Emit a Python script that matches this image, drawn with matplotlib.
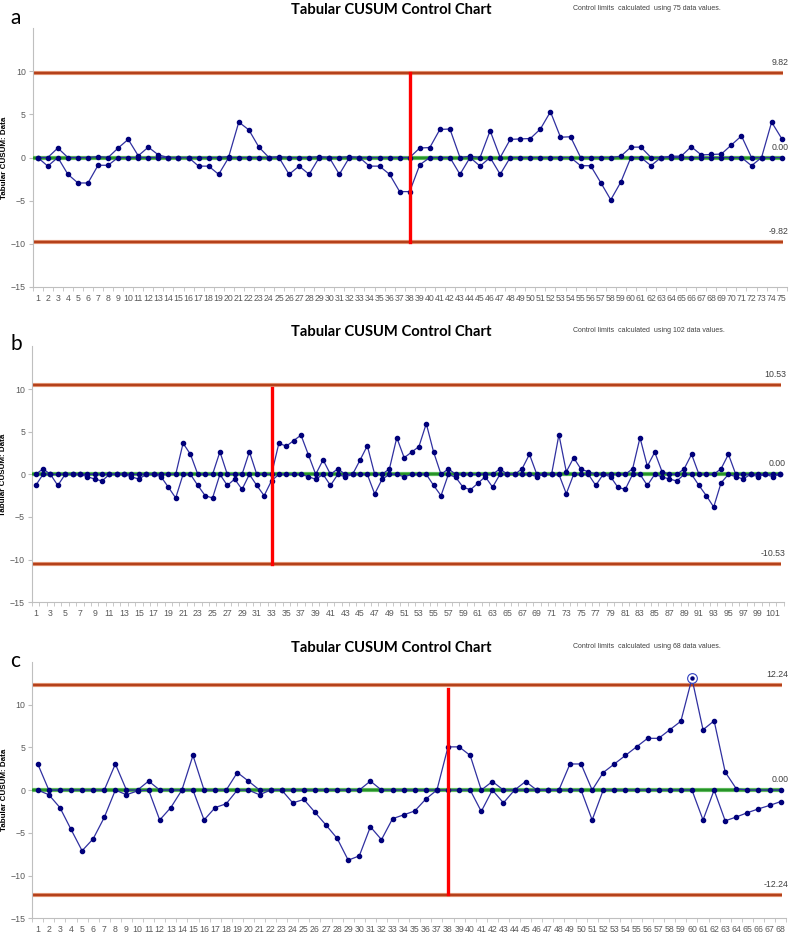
import numpy as np
import matplotlib
matplotlib.use("Agg")
import matplotlib.pyplot as plt
from matplotlib.ticker import FixedLocator

plt.rcParams['font.family'] = ['Liberation Sans', 'DejaVu Sans']

# ---- panel a : 75 values ----
a_upper = [0, 0, 1.1, 0, 0, 0, 0.1, 0, 1.1, 2.1, 0.2, 1.2, 0.3, 0, 0, 0, 0, 0, 0, 0.1,
           4.1, 3.2, 1.2, 0, 0.1, 0, 0, 0, 0.1, 0, 0, 0.1, 0, 0, 0, 0, 0, 0, 1.1, 1.15,
           3.25, 3.3, 0, 0.15, 0, 3.1, 0, 2.1, 2.15, 2.2, 3.3, 5.3, 2.35, 2.4, 0, 0, 0, 0, 0.15, 1.2,
           1.2, 0, 0, 0.15, 0.15, 1.25, 0.3, 0.35, 0.4, 1.45, 2.5, 0, 0, 4.1, 2.2]
a_lower = [0, -1.0, 0, -1.95, -2.95, -2.95, -0.9, -0.9, 0, 0, 0, 0, 0, 0, 0, 0, -1.0, -1.0, -1.95, 0,
           0, 0, 0, 0, 0, -1.95, -1.0, -1.95, 0, 0, -1.95, 0, 0, -1.0, -1.0, -1.95, -3.95, -3.95, -0.85, 0,
           0, 0, -1.95, 0, -1.0, 0, -1.95, 0, 0, 0, 0, 0, 0, 0, -0.95, -0.95, -2.9, -4.9, -2.85, 0,
           0, -0.95, 0, 0, 0, 0, 0, 0, 0, 0, 0, -0.95, 0, 0, 0]

# ---- panel b : 102 values ----
b_upper = [0, 0.65, 0, 0, 0, 0, 0, 0, 0, 0, 0, 0, 0, 0, 0, 0, 0, 0, 0, 0,
           3.65, 2.35, 0, 0, 0, 2.65, 0, 0, 0, 2.65, 0, 0, 0, 3.65, 3.3, 3.95, 4.6, 2.3, 0, 1.7,
           0, 0.65, 0, 0, 1.65, 3.35, 0, 0, 0.65, 4.3, 1.95, 2.6, 3.25, 5.95, 2.6, 0, 0.65, 0, 0, 0,
           0, 0, 0, 0.65, 0, 0, 0.65, 2.35, 0, 0, 0, 4.65, 0.3, 1.95, 0.6, 0.3, 0, 0, 0, 0,
           0, 0.65, 4.3, 0.95, 2.6, 0.3, 0, 0, 0.65, 2.35, 0, 0, 0, 0.65, 2.35, 0, 0, 0, 0, 0,
           0, 0]
b_lower = [-1.3, 0, 0, -1.3, 0, 0, 0, -0.27, -0.55, -0.78, 0, 0, 0, -0.3, -0.55, 0, 0, -0.27, -1.5, -2.77,
           0, 0, -1.3, -2.5, -2.77, 0, -1.3, -0.55, -1.76, 0, -1.3, -2.5, -0.75, 0, 0, 0, 0, -0.27, -0.58, 0,
           -1.3, 0, -0.3, 0, 0, 0, -2.3, -0.58, 0, 0, -0.3, 0, 0, 0, -1.3, -2.5, 0, -0.35, -1.52, -1.8,
           -1.05, -0.27, -1.5, 0, 0, 0, 0, 0, -0.27, 0, 0, 0, -2.27, 0, 0, 0, -1.3, 0, -0.27, -1.52,
           -1.76, 0, 0, -1.3, 0, -0.3, -0.55, -0.78, 0, 0, -1.3, -2.5, -3.83, -1.0, 0, -0.27, -0.55, 0, -0.27, 0,
           -0.27, 0]

# ---- panel c : 68 values ----
c_upper = [3.05, 0, 0, 0, 0, 0, 0, 3.05, 0, 0, 1.05, 0, 0, 0, 4.05, 0, 0, 0, 2.05, 1.05,
           0, 0, 0, 0, 0, 0, 0, 0, 0, 0, 1.05, 0, 0, 0, 0, 0, 0, 5.05, 5.05, 4.05,
           0, 1.0, 0, 0, 1.0, 0, 0, 0, 3.05, 3.05, 0, 2.05, 3.05, 4.05, 5.05, 6.05, 6.05, 7.05, 8.05, 13.05,
           7.05, 8.1, 2.1, 0.15, 0, 0, 0, 0]
c_lower = [0, -0.55, -2.05, -4.6, -7.1, -5.7, -3.2, 0, -0.55, -0.1, 0, -3.5, -2.05, 0, 0, -3.5, -2.05, -1.6, 0, 0,
           -0.55, 0, 0, -1.5, -1.1, -2.6, -4.1, -5.65, -8.2, -7.7, -4.3, -5.8, -3.35, -2.9, -2.45, -1.05, 0, 0, 0, 0,
           -2.5, 0, -1.5, 0, 0, 0, 0, 0, 0, 0, -3.5, 0, 0, 0, 0, 0, 0, 0, 0, 0,
           -3.5, 0, -3.6, -3.15, -2.65, -2.2, -1.8, -1.35]

limits = [9.82, 10.53, 12.24]
shift_at = [38, 33, 38]
shift_span = [(-9.82, 9.82), (-10.53, 10.1), (-12.2, 11.8)]
label_step = [1, 2, 1]
panels = ['a', 'b', 'c']
n_values = [75, 102, 68]
out_points = [[], [], [60]]

# axes boxes in pixels: left, top, right, bottom
boxes = [(32.7, 28, 786.7, 287), (32, 346.4, 783.7, 602.3), (32.2, 661.8, 786.2, 918.3)]
title_y = [9.5, 332, 648]
letter_y = [18, 344, 661]

W, H = 793, 934
fig = plt.figure(figsize=(W / 100, H / 100), dpi=100)

uppers = [a_upper, b_upper, c_upper]
lowers = [a_lower, b_lower, c_lower]

navy = '#00007A'
lim_col = '#B4411B'
grey = '#595959'

for k in range(3):
    up = np.array(uppers[k])
    lo = np.array(lowers[k])
    n = len(up)
    x = np.arange(1, n + 1)
    l, t, r, b = boxes[k]
    ax = fig.add_axes([l / W, 1 - b / H, (r - l) / W, (b - t) / H])
    ax.set_xlim(0.5, n + 0.5)
    ax.set_ylim(-15, 15)

    L = limits[k]
    for v in (L, -L):
        ax.plot([0.5, n + 0.1], [v, v], color='#E8A080', lw=3.0, solid_capstyle='butt', zorder=1)
        ax.plot([0.5, n + 0.1], [v, v], color=lim_col, lw=1.7, solid_capstyle='butt', zorder=2)
    ax.plot([0.5, n + 0.1], [0, 0], color='#5CB85C', lw=3.0, solid_capstyle='butt', zorder=3)
    ax.plot([0.5, n + 0.1], [0, 0], color='#1E8C1E', lw=1.2, solid_capstyle='butt', zorder=3)

    ax.plot(x, up, color='#3030A0', lw=0.9, marker='o', ms=3.0, mfc=navy, mec=navy, zorder=4)
    ax.plot(x, lo, color='#3030A0', lw=0.9, marker='o', ms=3.0, mfc=navy, mec=navy, zorder=4)
    for p in out_points[k]:
        ax.plot([p], [up[p - 1]], marker='o', ms=7, mfc='white', mec='#3040C0', mew=0.8, zorder=5)
        ax.plot([p], [up[p - 1]], marker='o', ms=2.2, mfc=navy, mec=navy, zorder=6)

    s = shift_at[k]
    ax.plot([s, s], shift_span[k], color='#FF0000', lw=2.4, zorder=6)

    # labels for limit lines
    for val, txt in [(L, '%.2f' % L), (0, '0.00'), (-L, '%.2f' % -L)]:
        ax.annotate(txt, xy=(1.003, val), xycoords=('axes fraction', 'data'),
                    xytext=(0, 7.5), textcoords='offset points', ha='right', va='center',
                    fontsize=6.3, color='#404040', annotation_clip=False)

    for side in ['top', 'right']:
        ax.spines[side].set_visible(False)
    ax.spines['left'].set_color('#BFBFBF')
    ax.spines['bottom'].set_color('#BFBFBF')
    ax.spines['left'].set_linewidth(0.8)
    ax.spines['bottom'].set_linewidth(0.8)

    ax.set_yticks([-15, -10, -5, 0, 5, 10])
    ax.tick_params(axis='y', labelsize=6.3, labelcolor=grey, color='#BFBFBF', length=3, width=0.8, pad=2)
    ticks = list(range(1, n + 1, label_step[k]))
    ax.set_xticks(ticks)
    ax.set_xticklabels([str(v) for v in ticks])
    ax.xaxis.set_minor_locator(FixedLocator(np.arange(0.5, n + 1, 1)))
    ax.tick_params(axis='x', which='major', labelsize=6.3, labelcolor=grey, length=0, pad=5)
    ax.tick_params(axis='x', which='minor', color='#BFBFBF', length=3, width=0.6)

    ax.set_ylabel('Tabular CUSUM: Data', fontsize=5.8, fontweight='bold')
    ax.yaxis.set_label_coords(-(l - 7.5) / (r - l), 0.5)

    fig.text(391 / W, 1 - title_y[k] / H, 'Tabular CUSUM Control Chart', ha='center', va='center',
             fontsize=10.6, fontweight='bold', family=['Lato', 'DejaVu Sans'])
    fig.text(573 / W, 1 - (title_y[k] - 1.5) / H,
             'Control limits  calculated  using %d data values.' % n_values[k],
             ha='left', va='center', fontsize=5.0, color='#404040')
    fig.text(10 / W, 1 - letter_y[k] / H, panels[k], ha='left', va='center', fontsize=15,
             family=['Lato', 'DejaVu Sans'])

fig.savefig('out.png', dpi=100)
